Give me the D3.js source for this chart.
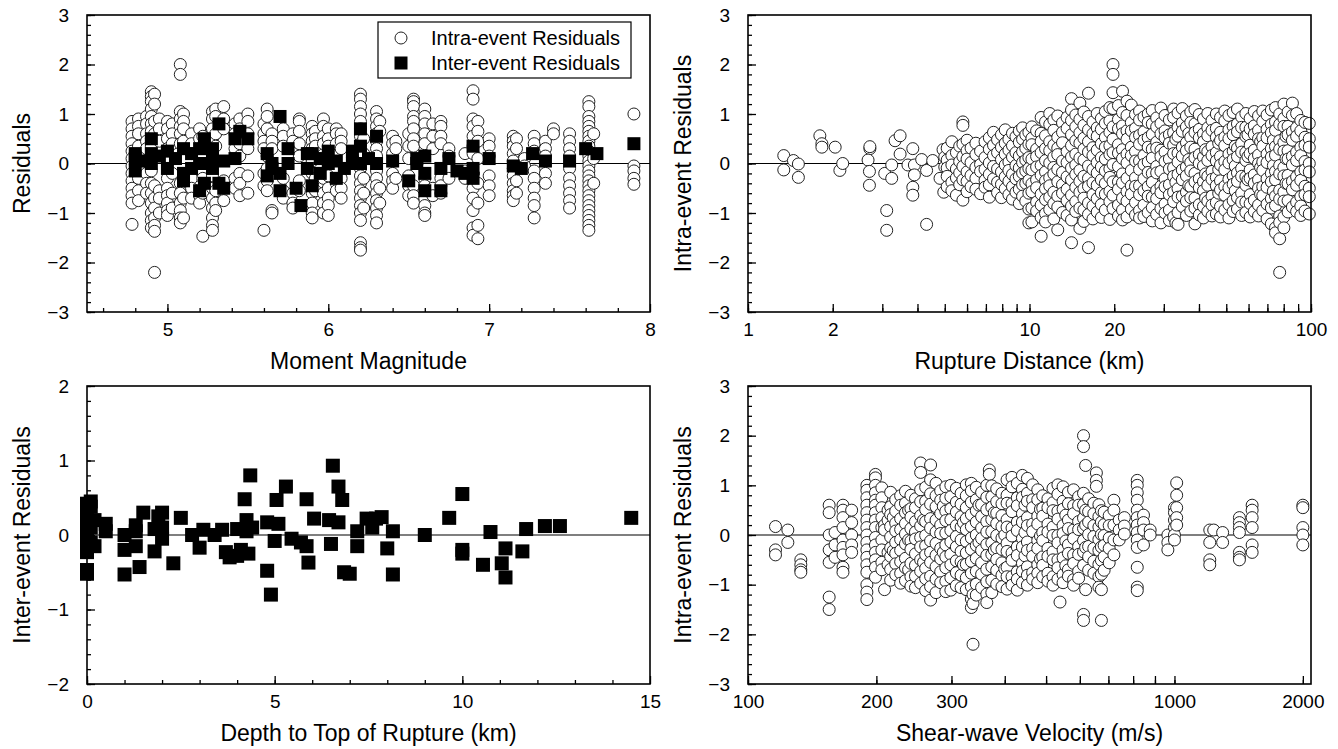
<!DOCTYPE html>
<html>
<head>
<meta charset="utf-8">
<title>Residuals</title>
<script src="https://cdnjs.cloudflare.com/ajax/libs/d3/7.8.5/d3.min.js"></script>
<style>
body { margin: 0; background: #fff; }
svg text { font-family: "Liberation Sans", Arial, Helvetica, sans-serif; fill: #000; }
.tick line { stroke: #000; stroke-width: 1.3; }
</style>
</head>
<body>
<div id="chart"></div>
<script>
// intra-event residuals, one column per earthquake magnitude
var magCols = [
    [4.78, [0.85, 0.7, 0.55, 0.4, 0.25, 0.1, -0.05, -0.2, -0.35, -0.5, -0.65, -0.8, -1.23]],
    [4.82, [0.9, 0.75, 0.6, 0.35, 0.15, -0.1, -0.3, -0.55, -0.75]],
    [4.87, [0.95, 0.8, 0.6, 0.45, 0.3, 0.05, -0.2, -0.4, -0.6]],
    [4.9, [1.45, 1.35, 1.25, 1.1, 0.95, 0.8, 0.65, 0.5, 0.35, -0.15, -0.4, -0.6, -0.8, -1.0, -1.15, -1.3]],
    [4.92, [1.4, 1.2, 0.85, 0.6, -0.45, -0.7, -0.9, -1.1, -1.25, -1.37, -2.2]],
    [4.95, [0.9, 0.7, 0.45, -0.55, -0.7, -1.0]],
    [5.0, [0.85, 0.7, 0.5, 0.3, -0.3, -0.5, -0.65, -0.8, -0.95, -1.05]],
    [5.03, [0.8, 0.6, 0.4, -0.2, -0.6, -0.9]],
    [5.08, [2.0, 1.8, 1.05, 0.9, 0.75, 0.6, 0.4, -0.4, -0.6, -0.8, -0.95, -1.1, -1.2]],
    [5.1, [1.0, 0.85, 0.7, 0.45, -0.7, -1.1]],
    [5.15, [0.6, 0.4, 0.2, -0.3, -0.5, -0.7]],
    [5.2, [0.7, 0.5, -0.65, -0.8]],
    [5.22, [0.55, 0.35, -0.3, -0.6, -1.47]],
    [5.28, [1.05, 0.9, 0.7, 0.5, 0.3, -0.25, -0.5, -0.7, -0.9, -1.1, -1.25, -1.35]],
    [5.3, [1.1, 0.95, 0.6, 0.35, -0.55, -0.8, -0.95]],
    [5.35, [1.15, 0.9, 0.7, -0.35, -0.75]],
    [5.42, [0.8, 0.6, 0.3, -0.3, -0.5]],
    [5.45, [0.9, 0.7, 0.4, 0.15, -0.2, -0.4, -0.65]],
    [5.5, [1.0, 0.85, 0.6, 0.3, -0.25, -0.6]],
    [5.6, [0.8, 0.6, 0.45, 0.3, -0.2, -0.45, -1.35]],
    [5.62, [1.1, 0.95, 0.7, 0.15, -0.1, -0.35, -0.55]],
    [5.65, [0.6, 0.45, 0.3, -0.95, -1.0]],
    [5.72, [0.7, 0.55, 0.35, -0.3, -0.55, -0.7]],
    [5.78, [0.6, 0.45, -0.6, -0.8, -0.9]],
    [5.82, [0.9, 0.85, 0.65, 0.4, 0.15, -0.35, -0.55]],
    [5.9, [0.75, 0.6, 0.45, 0.3, 0.05, -0.2, -0.45, -0.6, -0.8, -1.0, -1.1]],
    [5.92, [0.65, 0.5, 0.35, -0.3, -0.55]],
    [5.97, [0.9, 0.75, 0.55, 0.4, -0.3, -0.6, -0.8, -1.0]],
    [6.0, [0.7, 0.5, 0.35, -0.25, -0.5, -0.7, -0.85, -1.05]],
    [6.05, [0.7, 0.6, 0.4, -0.4, -0.55]],
    [6.08, [0.6, 0.45, 0.3, -0.3, -0.5, -0.7]],
    [6.2, [1.4, 1.3, 1.15, 1.0, 0.85, 0.7, 0.55, 0.4, 0.25, 0.1, -0.1, -0.25, -0.4, -0.55, -0.7, -0.85, -1.0, -1.15, -1.6, -1.7, -1.75]],
    [6.22, [0.5, 0.2, -0.3, -0.6, -0.9]],
    [6.3, [1.05, 0.9, 0.75, 0.6, 0.45, 0.3, 0.15, -0.15, -0.3, -0.45, -0.6, -0.75, -0.9, -1.05, -1.2]],
    [6.32, [0.85, 0.65, -0.5, -0.8]],
    [6.4, [0.55, 0.4, 0.2, -0.2, -0.35, -0.5]],
    [6.42, [0.45, 0.3, -0.3]],
    [6.5, [0.6, 0.35, 0.1, -0.25, -0.45, -0.65]],
    [6.53, [1.3, 1.25, 1.15, 0.95, 0.85, 0.7, 0.5, 0.35, -0.45, -0.65, -0.8]],
    [6.6, [1.1, 0.95, 0.8, 0.6, 0.4, -0.3, -0.45, -0.7, -0.85, -1.0, -1.05]],
    [6.65, [0.8, 0.55, 0.3, -0.5, -0.65]],
    [6.7, [0.85, 0.75, 0.55, 0.4, -0.3, -0.45, -0.6]],
    [6.75, [0.3, 0.15, -0.1, -0.3]],
    [6.85, [0.2, -0.15, -0.3]],
    [6.9, [1.47, 1.3, 0.9, 0.75, 0.55, 0.35, 0.2, -0.2, -0.5, -0.7, -0.95, -1.3, -1.45]],
    [6.93, [0.85, 0.65, 0.45, 0.1, -0.4, -0.8, -1.25, -1.52]],
    [7.0, [0.5, 0.35, 0.15, -0.25, -0.45, -0.65]],
    [7.15, [0.55, 0.45, 0.35, 0.2, 0.05, -0.1, -0.25, -0.4, -0.55, -0.65, -0.75]],
    [7.17, [0.5, 0.3, -0.35, -0.6]],
    [7.22, [0.1, -0.05]],
    [7.28, [0.55, 0.4, 0.25, -0.15, -0.3, -0.5, -0.7, -0.85, -1.1]],
    [7.35, [0.45, 0.3, 0.15, -0.2, -0.4]],
    [7.4, [0.7, 0.6]],
    [7.5, [0.6, 0.45, 0.3, 0.15, -0.1, -0.3, -0.45, -0.6, -0.75, -0.9]],
    [7.62, [1.25, 1.15, 0.95, 0.85, 0.75, 0.65, 0.55, 0.45, 0.35, 0.25, 0.15, 0.05, -0.05, -0.15, -0.25, -0.35, -0.45, -0.55, -0.65, -0.75, -0.85, -0.95, -1.05, -1.15, -1.25, -1.35]],
    [7.65, [0.6, 0.1, -0.4]],
    [7.9, [1.0, -0.05, -0.15, -0.3, -0.42]]
];

// inter-event residuals [magnitude, residual]
var magEvents = [
    [4.8, 0.1], [4.8, -0.15], [4.8, 0.2], [4.83, 0.05], [4.9, 0.5], [4.9, 0.2], [4.9, 0.0], [4.95, 0.15],
    [5.0, 0.25], [5.0, -0.1], [5.05, 0.1], [5.1, -0.2], [5.1, -0.35], [5.1, 0.3], [5.15, 0.2], [5.15, -0.1],
    [5.2, -0.55], [5.2, 0.0], [5.2, 0.3], [5.23, 0.5], [5.23, -0.4], [5.28, 0.1], [5.28, -0.1], [5.28, 0.3],
    [5.32, 0.8], [5.32, -0.4], [5.35, 0.05], [5.35, -0.5], [5.42, 0.5], [5.42, 0.1], [5.45, 0.65], [5.5, 0.5],
    [5.62, 0.2], [5.62, -0.25], [5.65, 0.0], [5.65, -0.1], [5.7, 0.95], [5.7, -0.55], [5.7, -0.2], [5.75, 0.3],
    [5.75, 0.0], [5.8, -0.5], [5.83, -0.85], [5.87, 0.2], [5.87, -0.1], [5.9, 0.2], [5.9, -0.45], [5.95, 0.1],
    [5.95, -0.2], [6.0, 0.25], [6.0, 0.0], [6.05, -0.3], [6.05, 0.05], [6.1, -0.1], [6.15, 0.0], [6.15, 0.25],
    [6.2, 0.7], [6.2, 0.35], [6.2, 0.0], [6.25, 0.1], [6.3, 0.55], [6.3, 0.0], [6.4, 0.05], [6.5, -0.35],
    [6.55, 0.0], [6.55, 0.1], [6.6, 0.15], [6.6, -0.55], [6.6, -0.2], [6.7, -0.1], [6.7, -0.55], [6.75, 0.1],
    [6.8, -0.15], [6.85, -0.2], [6.9, 0.35], [6.9, -0.1], [6.9, -0.3], [7.0, 0.1], [7.15, -0.05], [7.2, -0.1],
    [7.27, 0.2], [7.35, 0.05], [7.5, 0.05], [7.6, 0.3], [7.67, 0.2], [7.9, 0.4]
];

// intra-event residuals vs rupture distance: sparse near-source points, then columns
var distSparse = [
    [1.34, 0.16], [1.34, -0.13], [1.45, 0.06], [1.51, -0.01], [1.51, -0.28], [1.8, 0.56], [1.83, 0.4],
    [1.83, 0.33], [2.04, 0.33], [2.12, -0.14], [2.17, 0.0], [2.71, 0.3], [2.71, 0.34], [2.67, 0.07],
    [2.7, -0.16], [2.7, -0.44], [3.11, -0.95], [3.11, -1.35], [3.06, -0.2], [3.24, -0.03], [3.24, -0.3],
    [3.33, 0.46], [3.47, 0.56], [3.47, 0.19], [3.85, 0.3], [3.85, -0.48], [3.85, -0.64], [3.7, -0.03],
    [3.9, -0.03], [3.9, -0.23], [4.14, 0.08], [4.31, -0.14], [4.31, -1.23], [4.53, 0.06], [4.81, -0.3],
    [4.93, 0.28], [4.96, -0.58], [5.0, 0.13], [5.0, -0.07]
];
var distCols = [
    [5.1, [0.31, 0.07, -0.09, -0.26, -0.47]],
    [5.3, [0.44, 0.16, -0.03, -0.38, -0.55]],
    [5.5, [0.22, -0.11, -0.29, -0.64]],
    [5.65, [0.35, 0.04, -0.19, -0.43]],
    [5.8, [0.84, 0.77, 0.39, 0.14, -0.06, -0.33, -0.74]],
    [6.0, [0.47, 0.26, 0.09, -0.17, -0.36, -0.57]],
    [6.2, [0.31, 0.02, -0.24, -0.47]],
    [6.45, [0.41, 0.18, -0.08, -0.3, -0.52]],
    [6.7, [0.25, -0.02, -0.16, -0.61]],
    [6.95, [0.44, 0.12, -0.12, -0.34, -0.48]],
    [7.2, [0.52, 0.29, 0.01, -0.22, -0.43, -0.68]],
    [7.45, [0.63, 0.37, 0.16, -0.06, -0.31]],
    [7.7, [0.48, 0.22, -0.11, -0.38, -0.59]],
    [7.95, [0.58, 0.33, 0.08, -0.17, -0.42, -0.69]],
    [8.2, [0.68, 0.41, 0.19, -0.03, -0.27, -0.51]],
    [8.45, [0.49, 0.27, 0.03, -0.14, -0.36, -0.63]],
    [8.7, [0.61, 0.36, 0.13, -0.22, -0.47, -0.72]],
    [8.95, [0.54, 0.22, -0.04, -0.31, -0.58]],
    [9.2, [0.66, 0.43, 0.15, -0.09, -0.26, -0.52, -0.81]],
    [9.45, [0.72, 0.49, 0.24, 0.02, -0.19, -0.43, -0.66]],
    [9.7, [0.58, 0.31, 0.07, -0.15, -0.4, -0.76]],
    [9.95, [0.63, 0.39, 0.12, -0.1, -0.34, -0.6, -0.92, -1.2]],
    [10.2, [0.74, 0.51, 0.38, 0.09, -0.13, -0.41, -0.57, -0.9, -1.18]],
    [10.6, [0.66, 0.29, 0.14, -0.07, -0.33, -0.49, -0.78, -0.96]],
    [11.0, [0.93, 0.61, 0.45, 0.22, -0.04, -0.24, -0.62, -0.84, -1.09, -1.47]],
    [11.4, [0.84, 0.56, 0.3, 0.06, -0.17, -0.35, -0.51, -0.73, -1.01, -1.18]],
    [11.8, [1.01, 0.79, 0.44, 0.26, 0.01, -0.29, -0.45, -0.68, -0.93]],
    [12.2, [0.88, 0.67, 0.37, 0.13, -0.08, -0.21, -0.58, -0.81, -1.12]],
    [12.6, [0.96, 0.53, 0.31, 0.18, -0.12, -0.37, -0.66, -0.88, -1.34]],
    [13.1, [0.82, 0.63, 0.42, 0.05, -0.18, -0.43, -0.6, -0.99]],
    [13.6, [0.93, 0.71, 0.24, 0.02, -0.27, -0.52, -0.75, -1.05]],
    [14.1, [1.31, 1.08, 0.87, 0.58, 0.36, 0.13, -0.09, -0.33, -0.64, -0.86, -1.14, -1.6]],
    [14.6, [0.98, 0.74, 0.46, 0.19, -0.03, -0.22, -0.48, -0.77, -0.97]],
    [15.1, [1.22, 0.89, 0.62, 0.41, 0.11, -0.14, -0.36, -0.58, -0.9, -1.31]],
    [15.6, [1.04, 0.77, 0.51, 0.29, 0.07, -0.26, -0.51, -0.7, -0.94, -1.17]],
    [16.2, [1.42, 0.95, 0.68, 0.44, 0.23, -0.05, -0.3, -0.46, -0.8, -1.03, -1.7]],
    [16.8, [0.84, 0.6, 0.32, 0.16, -0.12, -0.39, -0.63, -0.86, -1.12]],
    [17.4, [1.01, 0.72, 0.55, 0.27, 0.02, -0.19, -0.44, -0.71, -0.98]],
    [18.0, [0.91, 0.69, 0.4, 0.12, -0.07, -0.33, -0.59, -0.83, -1.09]],
    [18.6, [1.05, 0.81, 0.53, 0.33, 0.09, -0.15, -0.4, -0.62, -0.94]],
    [19.3, [1.13, 0.86, 0.63, 0.36, 0.18, -0.11, -0.28, -0.56, -0.77, -1.13]],
    [19.8, [2.0, 1.8, 1.43, 1.11, 0.74, 0.49, 0.22, -0.02, -0.37, -0.64, -0.91]],
    [20.7, [1.17, 0.89, 0.7, 0.38, 0.21, -0.06, -0.37, -0.52, -0.84, -1.06]],
    [21.4, [1.46, 1.03, 0.76, 0.6, 0.28, 0.1, -0.21, -0.39, -0.7, -0.94, -1.14]],
    [22.2, [1.26, 0.97, 0.66, 0.49, 0.19, 0.01, -0.3, -0.57, -0.76, -1.08, -1.75]],
    [23.0, [1.18, 0.83, 0.66, 0.33, 0.16, -0.14, -0.45, -0.62, -0.92]],
    [23.8, [0.99, 0.71, 0.53, 0.24, 0.05, -0.29, -0.46, -0.79, -1.04]],
    [24.6, [1.06, 0.88, 0.57, 0.39, 0.05, -0.12, -0.45, -0.63, -0.95, -1.1]],
    [25.5, [0.94, 0.64, 0.47, 0.16, -0.02, -0.31, -0.55, -0.84, -1.07]],
    [26.4, [1.0, 0.83, 0.52, 0.33, 0.03, -0.18, -0.47, -0.66, -0.99]],
    [27.3, [1.07, 0.8, 0.59, 0.29, 0.11, -0.2, -0.38, -0.68, -0.89, -1.16]],
    [28.3, [0.92, 0.74, 0.43, 0.31, -0.06, -0.19, -0.54, -0.71, -1.03]],
    [29.3, [1.12, 0.81, 0.6, 0.27, 0.14, -0.16, -0.46, -0.59, -0.91, -1.2]],
    [30.3, [0.97, 0.66, 0.52, 0.23, 0.04, -0.31, -0.47, -0.82, -1.0]],
    [31.4, [0.88, 0.58, 0.41, 0.09, -0.11, -0.43, -0.63, -0.94, -1.15]],
    [32.5, [1.1, 0.93, 0.62, 0.37, 0.2, -0.09, -0.26, -0.58, -0.77, -1.08]],
    [33.1, [0.49, -0.38, -1.2]],
    [33.7, [1.02, 0.73, 0.55, 0.21, 0.03, -0.22, -0.51, -0.68, -0.99, -1.23]],
    [34.9, [1.11, 0.82, 0.65, 0.33, 0.15, -0.13, -0.33, -0.66, -0.87]],
    [36.1, [0.96, 0.74, 0.42, 0.26, -0.07, -0.25, -0.58, -0.76, -1.05]],
    [36.8, [0.61, 0.08, -0.45]],
    [37.4, [1.04, 0.83, 0.53, 0.33, 0.02, -0.15, -0.47, -0.69, -0.96]],
    [38.7, [1.09, 0.8, 0.63, 0.29, 0.12, -0.2, -0.37, -0.7, -0.9, -1.22]],
    [40.1, [0.99, 0.69, 0.52, 0.18, 0.0, -0.31, -0.49, -0.83, -1.04]],
    [41.5, [0.9, 0.6, 0.44, 0.13, -0.05, -0.37, -0.55, -0.87, -1.1]],
    [42.2, [0.28, -0.21, -0.7]],
    [43.0, [1.01, 0.72, 0.56, 0.24, 0.06, -0.26, -0.44, -0.76, -0.97]],
    [44.5, [0.87, 0.67, 0.34, 0.16, -0.16, -0.32, -0.66, -0.84, -1.06]],
    [46.1, [1.0, 0.71, 0.53, 0.22, 0.05, -0.28, -0.45, -0.79, -1.02]],
    [47.0, [0.41, -0.12, -0.6]],
    [47.7, [0.93, 0.63, 0.47, 0.14, -0.03, -0.35, -0.53, -0.87, -1.08]],
    [49.4, [1.06, 0.86, 0.53, 0.36, 0.04, -0.13, -0.46, -0.64, -0.94]],
    [51.1, [0.97, 0.68, 0.5, 0.19, 0.01, -0.32, -0.49, -0.83, -1.1]],
    [52.9, [1.03, 0.75, 0.58, 0.25, 0.08, -0.25, -0.42, -0.75, -0.97]],
    [53.8, [0.35, -0.05, -0.55]],
    [54.8, [1.1, 0.8, 0.64, 0.31, 0.14, -0.19, -0.36, -0.69, -0.92]],
    [56.7, [0.94, 0.73, 0.4, 0.23, -0.1, -0.26, -0.6, -0.78, -1.05]],
    [58.7, [1.01, 0.73, 0.55, 0.22, 0.06, -0.27, -0.44, -0.78, -0.99]],
    [59.7, [0.58, 0.14, -0.33]],
    [60.8, [0.91, 0.7, 0.37, 0.2, -0.13, -0.3, -0.63, -0.81, -1.08]],
    [62.9, [1.05, 0.76, 0.59, 0.27, 0.1, -0.23, -0.4, -0.74, -0.97]],
    [65.1, [0.96, 0.67, 0.5, 0.17, 0.0, -0.33, -0.5, -0.84, -1.06]],
    [66.2, [0.44, -0.08, -0.62]],
    [67.4, [1.06, 0.85, 0.52, 0.35, 0.03, -0.14, -0.47, -0.65, -0.95]],
    [69.8, [0.98, 0.69, 0.52, 0.19, 0.02, -0.31, -0.48, -0.82, -1.12]],
    [72.3, [1.08, 0.79, 0.62, 0.3, 0.13, -0.2, -0.37, -0.71, -0.9, -1.22]],
    [73.5, [0.47, -0.04, -0.56]],
    [74.8, [1.13, 0.84, 0.67, 0.34, 0.17, -0.16, -0.33, -0.66, -0.85, -1.3, -1.4]],
    [77.4, [1.0, 0.79, 0.46, 0.29, -0.04, -0.21, -0.54, -0.72, -1.06, -1.19, -1.52, -2.2]],
    [80.1, [1.2, 0.91, 0.75, 0.42, 0.25, -0.08, -0.25, -0.58, -0.76, -1.08, -1.3]],
    [81.5, [0.55, 0.1, -0.4]],
    [82.9, [1.04, 0.75, 0.58, 0.26, 0.09, -0.24, -0.41, -0.75, -0.98]],
    [85.9, [1.22, 0.97, 0.64, 0.47, 0.14, -0.03, -0.36, -0.53, -0.88]],
    [88.9, [1.01, 0.72, 0.55, 0.23, 0.06, -0.27, -0.44, -0.78, -0.97]],
    [92.0, [0.87, 0.66, 0.33, 0.16, -0.17, -0.34, -0.67, -0.86, -1.05]],
    [95.2, [0.83, 0.53, 0.37, 0.04, -0.13, -0.46, -0.63, -0.96]],
    [98.6, [0.81, 0.5, 0.33, 0.0, -0.17, -0.5, -0.67, -1.02]]
];

// inter-event residuals [depth to top of rupture, residual]
var depthEvents = [
    [0, 0.42], [0, 0.35], [0, 0.28], [0, 0.22], [0, 0.15], [0, 0.08], [0, 0.02], [0, -0.05], [0, -0.12],
    [0, -0.18], [0, -0.23], [0, -0.47], [0, -0.52], [0.1, 0.45], [0.1, 0.38], [0.1, 0.1], [0.1, -0.1],
    [0.2, 0.2], [0.2, -0.15], [0.5, 0.15], [0.5, 0.05], [1.0, 0.0], [1.0, -0.2], [1.0, -0.53], [1.3, 0.13],
    [1.3, 0.05], [1.3, -0.15], [1.4, -0.43], [1.5, 0.3], [1.8, 0.08], [1.8, -0.22], [1.9, 0.25], [2.0, 0.3],
    [2.0, 0.1], [2.0, -0.05], [2.3, -0.38], [2.5, 0.23], [2.8, 0.0], [3.0, -0.17], [3.1, 0.07], [3.4, 0.0],
    [3.6, 0.07], [3.7, -0.23], [3.8, -0.3], [4.0, 0.08], [4.0, -0.28], [4.1, -0.2], [4.2, 0.48], [4.25, 0.2],
    [4.25, 0.05], [4.3, -0.25], [4.35, 0.8], [4.4, 0.1], [4.8, 0.17], [4.8, -0.48], [4.9, -0.8], [5.0, -0.08],
    [5.05, 0.47], [5.1, 0.15], [5.3, 0.65], [5.45, -0.05], [5.7, -0.1], [5.85, 0.48], [5.85, -0.15],
    [5.9, -0.37], [6.05, 0.22], [6.45, 0.2], [6.5, -0.12], [6.55, 0.93], [6.7, 0.65], [6.7, 0.17], [6.8, 0.47],
    [6.85, -0.5], [7.0, -0.52], [7.2, 0.05], [7.2, -0.15], [7.45, 0.22], [7.6, 0.1], [7.7, 0.22], [7.85, 0.24],
    [8.0, -0.18], [8.15, 0.05], [8.15, -0.53], [9.0, 0.0], [9.65, 0.23], [10.0, 0.55], [10.0, -0.2],
    [10.0, -0.25], [10.55, -0.4], [10.75, 0.04], [11.05, -0.38], [11.15, -0.18], [11.15, -0.57], [11.6, -0.22],
    [11.7, 0.08], [12.2, 0.12], [12.6, 0.12], [14.5, 0.23]
];

// intra-event residuals vs shear-wave velocity, grouped by site velocity
var vsCols = [
    [116, [0.17, -0.3, -0.4]],
    [124, [0.1, -0.15]],
    [133, [-0.5, -0.6, -0.7, -0.75]],
    [155, [0.6, 0.45, 0.0, -0.3, -0.55, -1.25, -1.5]],
    [160, [0.05, -0.2, -0.45]],
    [167, [0.6, 0.5, 0.35, 0.15, -0.1, -0.25, -0.4, -0.65, -0.75]],
    [175, [0.5, 0.25, 0.0, -0.2, -0.35]],
    [190, [1.0, 0.9, 0.75, 0.6, 0.45, 0.3, 0.15, 0.0, -0.15, -0.3, -0.45, -0.6, -0.75, -1.0, -1.15, -1.3]],
    [199, [1.22, 1.15, 1.0, 0.85, 0.7, 0.6, 0.45, 0.3, 0.15, -0.05, -0.2, -0.35, -0.5, -0.65, -0.85]],
    [206, [0.95, 0.75, 0.55, 0.35, 0.15, -0.1, -0.3, -0.55, -0.7]],
    [209, [0.2, 0.1, -1.1]],
    [213, [0.5, 0.3, -0.35, -0.6]],
    [216, [0.86, 0.57, 0.41, 0.17, -0.04, -0.26, -0.43, -0.69, -0.91]],
    [219, [0.35, -0.32]],
    [222, [0.71, 0.48, 0.24, 0.08, -0.15, -0.37, -0.58, -0.8]],
    [228, [0.79, 0.6, 0.33, 0.11, -0.09, -0.31, -0.54, -0.77, -0.97]],
    [234, [0.88, 0.64, 0.45, 0.23, 0.02, -0.18, -0.47, -0.66, -0.92]],
    [238, [0.5, -0.1, -0.7]],
    [241, [0.8, 0.53, 0.36, 0.13, -0.12, -0.29, -0.57, -0.84, -1.03]],
    [247, [0.73, 0.55, 0.27, 0.06, -0.08, -0.38, -0.61, -0.83, -1.06]],
    [254, [1.45, 1.26, 0.91, 0.67, 0.39, 0.18, -0.05, -0.24, -0.5, -0.73, -0.97]],
    [258, [0.3, -0.55]],
    [261, [0.96, 0.68, 0.51, 0.27, -0.01, -0.22, -0.4, -0.67, -0.88, -1.12]],
    [268, [1.41, 1.11, 0.83, 0.62, 0.33, 0.14, -0.12, -0.35, -0.55, -0.83, -1.04, -1.31]],
    [276, [1.04, 0.79, 0.57, 0.3, 0.06, -0.17, -0.41, -0.64, -0.89, -1.16]],
    [283, [0.89, 0.7, 0.43, 0.2, 0.03, -0.27, -0.48, -0.74, -0.96]],
    [287, [0.58, -0.35]],
    [291, [0.97, 0.74, 0.48, 0.29, 0.04, -0.2, -0.44, -0.66, -0.93, -1.14]],
    [299, [1.0, 0.77, 0.53, 0.31, 0.09, -0.14, -0.39, -0.6, -0.86, -1.11]],
    [308, [0.94, 0.66, 0.46, 0.19, -0.03, -0.24, -0.52, -0.76, -1.02]],
    [316, [0.84, 0.62, 0.37, 0.16, -0.1, -0.33, -0.54, -0.81, -1.06]],
    [320, [0.25, -0.6]],
    [325, [1.01, 0.79, 0.55, 0.33, 0.11, -0.13, -0.36, -0.59, -0.86, -1.1]],
    [334, [1.04, 0.89, 0.66, 0.41, 0.17, -0.06, -0.29, -0.53, -0.77, -1.04, -1.29, -1.46]],
    [337, [-1.2, -1.38, -2.2]],
    [343, [0.96, 0.71, 0.49, 0.26, 0.0, -0.21, -0.47, -0.73, -0.99, -1.21]],
    [348, [0.6, -0.15]],
    [353, [0.86, 0.61, 0.37, 0.14, -0.07, -0.31, -0.56, -0.79, -1.06]],
    [363, [1.0, 0.76, 0.51, 0.27, 0.06, -0.19, -0.41, -0.69, -0.94, -1.19, -1.36]],
    [368, [1.31, 1.22]],
    [373, [0.99, 0.77, 0.56, 0.31, 0.07, -0.16, -0.39, -0.64, -0.91, -1.16]],
    [378, [0.45, -0.3]],
    [383, [0.93, 0.67, 0.44, 0.23, -0.01, -0.26, -0.49, -0.71, -0.99]],
    [394, [0.84, 0.63, 0.39, 0.17, -0.06, -0.29, -0.56, -0.81, -1.04]],
    [400, [0.0, -0.68]],
    [405, [1.11, 0.8, 0.64, 0.31, 0.16, -0.17, -0.33, -0.65, -0.84, -1.09]],
    [416, [1.16, 0.97, 0.63, 0.47, 0.14, -0.02, -0.36, -0.51, -0.84, -1.01]],
    [428, [1.04, 0.75, 0.59, 0.26, 0.09, -0.24, -0.41, -0.74, -0.89, -1.11]],
    [440, [1.2, 0.92, 0.76, 0.43, 0.26, -0.07, -0.24, -0.57, -0.73, -0.96]],
    [446, [0.6, 0.05, -0.42]],
    [452, [1.14, 0.84, 0.68, 0.35, 0.19, -0.14, -0.31, -0.64, -0.81, -1.01]],
    [465, [1.01, 0.71, 0.55, 0.22, 0.07, -0.27, -0.43, -0.76, -0.89]],
    [478, [0.91, 0.71, 0.38, 0.22, -0.11, -0.27, -0.6, -0.77, -0.96]],
    [485, [0.52, -0.02, -0.48]],
    [491, [0.79, 0.54, 0.38, 0.05, -0.11, -0.44, -0.61, -0.84]],
    [505, [0.73, 0.55, 0.22, 0.06, -0.27, -0.43, -0.77, -0.93]],
    [519, [0.94, 0.65, 0.49, 0.16, -0.01, -0.34, -0.5, -0.84, -1.01]],
    [533, [1.01, 0.82, 0.48, 0.32, -0.01, -0.16, -0.5, -0.66, -0.89]],
    [539, [-1.35]],
    [548, [0.97, 0.68, 0.52, 0.19, 0.03, -0.3, -0.46, -0.8, -0.96]],
    [556, [0.4, -0.12, -0.62]],
    [564, [0.86, 0.63, 0.3, 0.13, -0.2, -0.37, -0.7, -0.83]],
    [580, [0.91, 0.59, 0.43, 0.1, -0.07, -0.4, -0.57, -0.9, -1.01]],
    [596, [0.77, 0.6, 0.27, 0.11, -0.23, -0.39, -0.73, -0.87]],
    [612, [2.0, 1.78, 0.84, 0.61, 0.34, 0.13, -0.11, -0.34, -0.61, -1.6, -1.72]],
    [619, [1.4, 0.5, 0.2, -0.25, -1.1]],
    [629, [0.73, 0.47, 0.26, 0.01, -0.23, -0.44, -0.71]],
    [647, [0.64, 0.43, 0.19, -0.03, -0.27, -0.53, -0.77]],
    [656, [1.25, 1.1, 0.98]],
    [665, [0.61, 0.37, 0.16, -0.09, -0.31, -0.59, -0.84, -1.05]],
    [674, [0.49, 0.26, 0.01, -0.24, -0.51, -0.79, -1.1, -1.72]],
    [684, [0.46, 0.21, -0.01, -0.21, -0.44, -0.71]],
    [703, [0.39, 0.19, -0.06, -0.27, -0.56]],
    [721, [0.7, 0.5, 0.2, -0.1, -0.4]],
    [742, [0.3, 0.1, -0.1]],
    [763, [0.35, 0.18, 0.02]],
    [818, [1.1, 1.0, 0.85, 0.7, 0.5, 0.35, 0.2, 0.05, -0.1, -0.25, -0.65, -1.05, -1.12]],
    [846, [0.4, 0.25, 0.1, -0.2]],
    [877, [0.1, 0.0]],
    [965, [0.0, -0.15, -0.3]],
    [1000, [0.55, 0.45, 0.3, 0.15, 0.0, -0.1]],
    [1012, [1.05, 0.8, 0.55, 0.35, 0.2]],
    [1210, [0.1, -0.15, -0.5, -0.6]],
    [1236, [0.1]],
    [1297, [0.05, -0.15]],
    [1420, [0.35, 0.25, 0.15, 0.05, -0.35, -0.45, -0.5]],
    [1521, [0.6, 0.5, 0.35, 0.15, -0.2, -0.35]],
    [2000, [0.6, 0.55, 0.15, 0.0, -0.2]]
];

// tick labels
var residTicks = [-3, -2, -1, 0, 1, 2, 3];
var interTicks = [-2, -1, 0, 1, 2];
var magTicks = [5, 6, 7, 8];
var depthTicks = [0, 5, 10, 15];
var distLabels = [1, 2, 10, 20, 100];
var distTicks = [1, 2, 3, 4, 5, 6, 7, 8, 9, 10, 20, 30, 40, 50, 60, 70, 80, 90, 100];
var vsLabels = [100, 200, 300, 1000, 2000];
var vsTicks = [100, 200, 300, 400, 500, 600, 700, 800, 900, 1000, 2000];

var w = 1338;
var h = 749;
var leftX = [87, 650];
var rightX = [748, 1311];
var topY = [15, 312];
var bottomY = [386, 684];

function flatCols(cols)
{
    var out = [];
    cols.forEach(function(c) {
        c[1].forEach(function(v) { out.push([c[0], v]); });
    });
    return out;
}

function drawFrame(svg, xScale, yScale, o)
{
    var x0 = xScale.range()[0], x1 = xScale.range()[1];
    var y0 = yScale.range()[1], y1 = yScale.range()[0];
    var g = svg.append("g");

    // zero line goes under the markers
    g.append("line")
        .attr("x1", x0).attr("x2", x1)
        .attr("y1", yScale(0)).attr("y2", yScale(0))
        .attr("stroke", "#000").attr("stroke-width", 1.2);

    // minor ticks
    g.append("g").attr("transform", "translate(0," + y1 + ")")
        .call(d3.axisBottom(xScale).tickValues(o.xMinor).tickSize(-4).tickSizeOuter(0).tickFormat(""))
        .call(function(s) { s.select(".domain").remove(); });
    g.append("g").attr("transform", "translate(" + x0 + ",0)")
        .call(d3.axisLeft(yScale).tickValues(o.yMinor).tickSize(-4).tickSizeOuter(0).tickFormat(""))
        .call(function(s) { s.select(".domain").remove(); });

    // major ticks and labels
    var xa = g.append("g").attr("transform", "translate(0," + y1 + ")")
        .call(d3.axisBottom(xScale).tickValues(o.xMajor).tickSize(-8).tickSizeOuter(0).tickPadding(11).tickFormat(d3.format("d")));
    xa.select(".domain").remove();
    if (o.xLabels) {
        xa.selectAll(".tick text").text(function(d) { return o.xLabels.indexOf(d) >= 0 ? d : ""; });
    }
    var ya = g.append("g").attr("transform", "translate(" + x0 + ",0)")
        .call(d3.axisLeft(yScale).tickValues(o.yMajor).tickSize(-8).tickSizeOuter(0).tickPadding(18).tickFormat(d3.format("d")));
    ya.select(".domain").remove();
    g.selectAll(".tick text").attr("font-size", 19).style("font-family", "'Liberation Sans', Arial, sans-serif");

    // titles
    g.append("text")
        .attr("x", (x0 + x1) / 2).attr("y", y1 + 57)
        .attr("text-anchor", "middle").attr("font-size", 23)
        .text(o.xTitle);
    g.append("text")
        .attr("transform", "translate(" + (x0 - 57) + "," + ((y0 + y1) / 2) + ") rotate(-90)")
        .attr("text-anchor", "middle").attr("font-size", 23)
        .text(o.yTitle);
    return g;
}

function drawBox(svg, xScale, yScale)
{
    var x0 = xScale.range()[0], x1 = xScale.range()[1];
    var y0 = yScale.range()[1], y1 = yScale.range()[0];
    svg.append("rect")
        .attr("x", x0).attr("y", y0)
        .attr("width", x1 - x0).attr("height", y1 - y0)
        .attr("fill", "none").attr("stroke", "#000").attr("stroke-width", 1.6);
}

function drawCircles(svg, data, xScale, yScale)
{
    svg.append("g").selectAll("circle")
        .data(data)
        .enter()
        .append("circle")
        .attr("cx", function(d) { return xScale(d[0]); })
        .attr("cy", function(d) { return yScale(d[1]); })
        .attr("r", 6)
        .attr("fill", "#fff")
        .attr("stroke", "#222")
        .attr("stroke-width", 1);
}

function drawSquares(svg, data, xScale, yScale, size)
{
    svg.append("g").selectAll("rect")
        .data(data)
        .enter()
        .append("rect")
        .attr("x", function(d) { return xScale(d[0]) - size / 2; })
        .attr("y", function(d) { return yScale(d[1]) - size / 2; })
        .attr("width", size)
        .attr("height", size)
        .attr("fill", "#000");
}

function init()
{
    var svg = d3.select("#chart").append("svg").attr("width", w).attr("height", h);
    var resMinor = d3.range(-3, 3.001, 0.2);

    // top left: residuals vs magnitude
    var xMag = d3.scaleLinear().domain([4.5, 8]).range(leftX);
    var yRes1 = d3.scaleLinear().domain([-3, 3]).range([topY[1], topY[0]]);
    drawFrame(svg, xMag, yRes1, {
        xMajor: magTicks, xMinor: d3.range(4.6, 8, 0.2), yMajor: residTicks, yMinor: resMinor,
        xTitle: "Moment Magnitude", yTitle: "Residuals"
    });
    drawCircles(svg, flatCols(magCols), xMag, yRes1);
    drawSquares(svg, magEvents, xMag, yRes1, 13);
    drawBox(svg, xMag, yRes1);

    var legend = svg.append("g");
    legend.append("rect").attr("x", 378).attr("y", 22).attr("width", 253).attr("height", 56)
        .attr("fill", "#fff").attr("stroke", "#000").attr("stroke-width", 1.2);
    legend.append("circle").attr("cx", 401).attr("cy", 38).attr("r", 6)
        .attr("fill", "#fff").attr("stroke", "#222");
    legend.append("rect").attr("x", 394.5).attr("y", 56.5).attr("width", 13).attr("height", 13).attr("fill", "#000");
    legend.append("text").attr("x", 431).attr("y", 45).attr("font-size", 20).text("Intra-event Residuals");
    legend.append("text").attr("x", 431).attr("y", 70).attr("font-size", 20).text("Inter-event Residuals");

    // top right: intra-event residuals vs distance
    var xDist = d3.scaleLog().domain([1, 100]).range(rightX);
    var yRes2 = d3.scaleLinear().domain([-3, 3]).range([topY[1], topY[0]]);
    drawFrame(svg, xDist, yRes2, {
        xMajor: distTicks, xMinor: distTicks, xLabels: distLabels, yMajor: residTicks, yMinor: resMinor,
        xTitle: "Rupture Distance (km)", yTitle: "Intra-event Residuals"
    });
    drawCircles(svg, distSparse.concat(flatCols(distCols)), xDist, yRes2);
    drawBox(svg, xDist, yRes2);

    // bottom left: inter-event residuals vs depth
    var xDepth = d3.scaleLinear().domain([0, 15]).range(leftX);
    var yInter = d3.scaleLinear().domain([-2, 2]).range([bottomY[1], bottomY[0]]);
    drawFrame(svg, xDepth, yInter, {
        xMajor: depthTicks, xMinor: d3.range(0, 15, 1), yMajor: interTicks, yMinor: d3.range(-2, 2.001, 0.2),
        xTitle: "Depth to Top of Rupture (km)", yTitle: "Inter-event Residuals"
    });
    drawSquares(svg, depthEvents, xDepth, yInter, 14);
    drawBox(svg, xDepth, yInter);

    // bottom right: intra-event residuals vs Vs30
    var xVs = d3.scaleLog().domain([100, 2090]).range(rightX);
    var yRes4 = d3.scaleLinear().domain([-3, 3]).range([bottomY[1], bottomY[0]]);
    drawFrame(svg, xVs, yRes4, {
        xMajor: vsTicks, xMinor: vsTicks, xLabels: vsLabels, yMajor: residTicks, yMinor: resMinor,
        xTitle: "Shear-wave Velocity (m/s)", yTitle: "Intra-event Residuals"
    });
    drawCircles(svg, flatCols(vsCols), xVs, yRes4);
    drawBox(svg, xVs, yRes4);
}

window.onload = init;
</script>
</body>
</html>
